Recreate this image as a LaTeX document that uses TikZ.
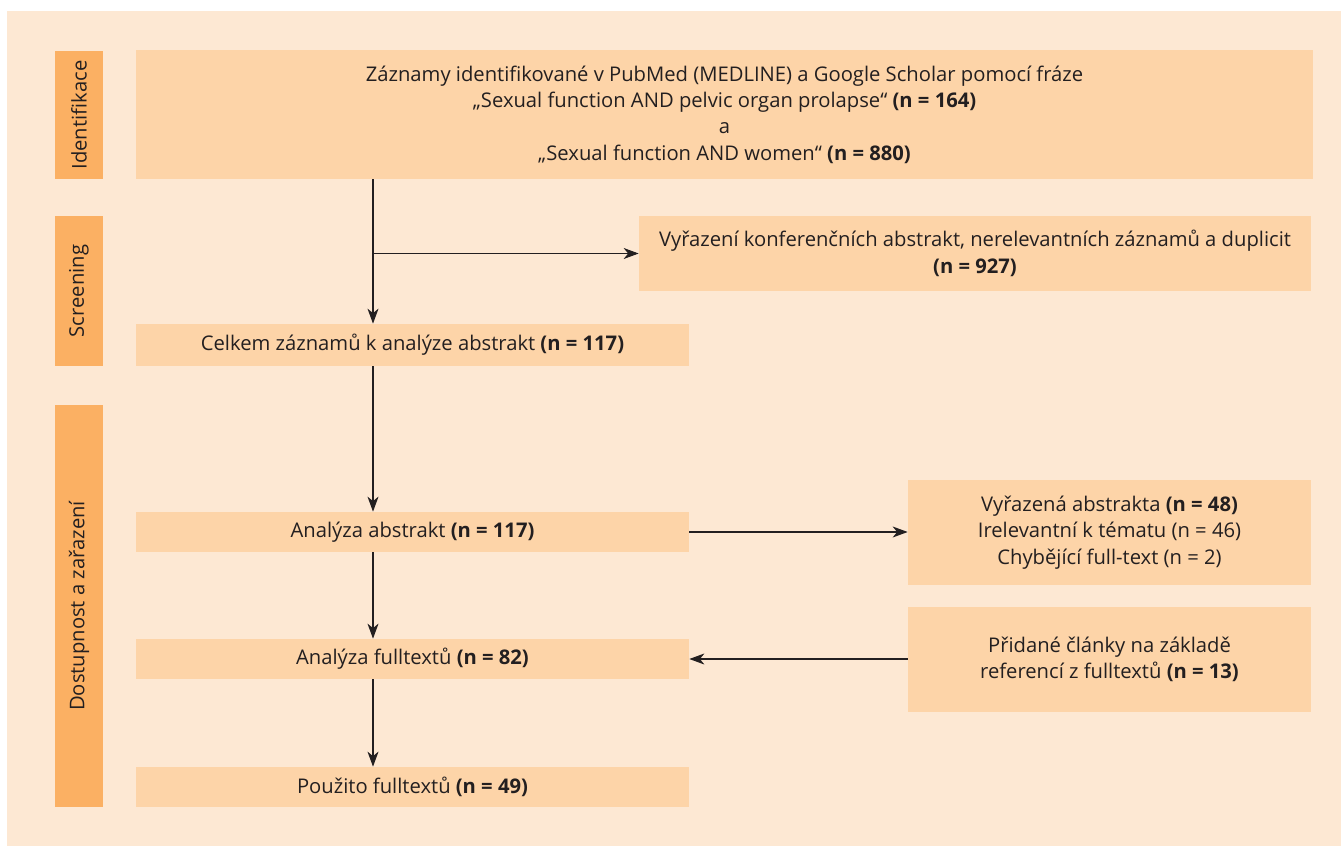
\documentclass[tikz,border=0pt]{standalone}
\usepackage{fontspec}
\setmainfont{Open Sans}
\usetikzlibrary{arrows.meta}
\definecolor{pozadi}{HTML}{FDE8D3}
\definecolor{krabice}{HTML}{FDD4A8}
\definecolor{faze}{HTML}{FBB063}
\definecolor{pismo}{HTML}{231F20}

\begin{document}
\begin{tikzpicture}[auto,
    box/.style ={fill=krabice, text=pismo, align=center, inner sep=0pt,
                 font=\fontsize{11.5}{15}\selectfont},
    phase/.style ={fill=faze, text=pismo, rotate=90, inner sep=0pt,
                 minimum height=0.96cm, font=\fontsize{11.5}{15}\selectfont},
    arrow/.style ={draw=pismo, line width=0.6pt,
                 -{Stealth[length=0.3cm,width=0.22cm,inset=0.09cm]}}]
   \useasboundingbox (0,0) rectangle (26.82,-16.92);
   \fill[pozadi] (0.14,-0.22) rectangle (26.82,-16.92);

   \node[phase, minimum width=2.56cm] (ident) at (1.58,-2.30) {Identifikace};
   \node[phase, minimum width=3.00cm] (scr)   at (1.58,-5.82) {Screening};
   \node[phase, minimum width=8.04cm] (dost)  at (1.58,-12.12) {Dostupnost a zařazení};

   \node[box, minimum width=23.54cm, minimum height=2.58cm] (zaznamy) at (14.49,-2.29)
     {Záznamy identifikované v PubMed (MEDLINE) a Google Scholar pomocí fráze\\
      „Sexual function AND pelvic organ prolapse“ \textbf{(n = 164)}\\
      a\\
      „Sexual function AND women“ \textbf{(n = 880)}};
   \node[box, minimum width=13.44cm, minimum height=1.5cm] (vyrazeni) at (19.50,-5.07)
     {Vyřazení konferenčních abstrakt, nerelevantních záznamů a duplicit\\
      \textbf{(n = 927)}};
   \node[box, minimum width=11.06cm, minimum height=0.84cm] (celkem) at (8.25,-6.90)
     {Celkem záznamů k analýze abstrakt \textbf{(n = 117)}};
   \node[box, minimum width=11.06cm, minimum height=0.8cm] (abstrakt) at (8.25,-10.64)
     {Analýza abstrakt \textbf{(n = 117)}};
   \node[box, minimum width=8.06cm, minimum height=2.1cm] (vyrazena) at (22.19,-10.65)
     {Vyřazená abstrakta \textbf{(n = 48)}\\
      Irelevantní k tématu (n = 46)\\
      Chybějící full-text (n = 2)};
   \node[box, minimum width=11.06cm, minimum height=0.8cm] (fulltext) at (8.25,-13.18)
     {Analýza fulltextů \textbf{(n = 82)}};
   \node[box, minimum width=8.06cm, minimum height=2.1cm] (pridane) at (22.19,-13.19)
     {Přidané články na základě\\
      referencí z fulltextů \textbf{(n = 13)}};
   \node[box, minimum width=11.06cm, minimum height=0.8cm] (pouzito) at (8.25,-15.74)
     {Použito fulltextů \textbf{(n = 49)}};

   \coordinate (osa) at (7.46,0);

   \draw[arrow] (zaznamy.south -| osa) to (celkem.north -| osa);
   \draw[arrow] (osa |- vyrazeni.west) to (vyrazeni.west);
   \draw[arrow] (celkem.south -| osa) to (abstrakt.north -| osa);
   \draw[arrow] (abstrakt.east) to (vyrazena.west |- abstrakt.east);
   \draw[arrow] (abstrakt.south -| osa) to (fulltext.north -| osa);
   \draw[arrow] (pridane.west |- fulltext.east) to (fulltext.east);
   \draw[arrow] (fulltext.south -| osa) to (pouzito.north -| osa);
 \end{tikzpicture}
\end{document}
